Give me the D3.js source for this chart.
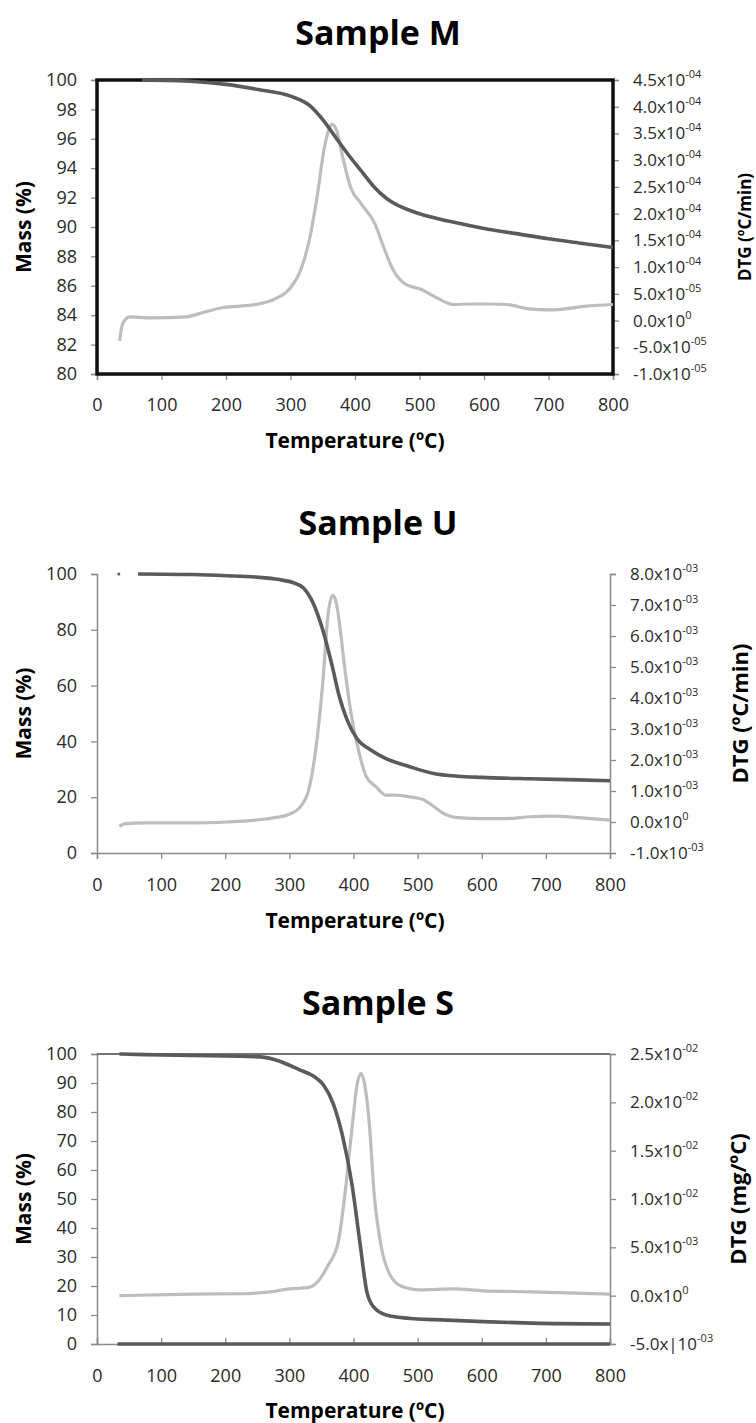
<!DOCTYPE html>
<html>
<head>
<meta charset="utf-8">
<script src="https://cdn.jsdelivr.net/npm/d3@7"></script>
<style>
  body { margin: 0; background: #fff; }
</style>
</head>
<body>
<script>

// ---- shared ----
const tempTicks = [0, 100, 200, 300, 400, 500, 600, 700, 800]

// ---- Sample M ----
const massMTemp  = [70, 150, 200, 250, 300, 330, 350, 370, 390, 410, 430, 450, 470, 500, 550, 600, 650, 700, 750, 800]
const massMValue = [100, 99.9, 99.7, 99.35, 98.9, 98.25, 97.3, 96.1, 94.9, 93.8, 92.7, 91.9, 91.4, 90.9, 90.35, 89.9, 89.55, 89.2, 88.9, 88.6]
const dtgMTemp   = [35, 40, 51, 84, 139, 156, 194, 222, 250, 277, 299, 316, 330, 341, 352, 360, 365, 371, 382, 393, 410, 432, 443, 459, 476, 503, 526, 553, 580, 608, 636, 669, 700, 719, 758, 800]
const dtgMValue  = [-0.38e-4, -0.05e-4, 0.07e-4, 0.05e-4, 0.07e-4, 0.12e-4, 0.24e-4, 0.27e-4, 0.31e-4, 0.41e-4, 0.6e-4, 0.95e-4, 1.55e-4, 2.3e-4, 3.2e-4, 3.6e-4, 3.67e-4, 3.57e-4, 3.0e-4, 2.5e-4, 2.18e-4, 1.78e-4, 1.42e-4, 0.95e-4, 0.7e-4, 0.58e-4, 0.43e-4, 0.3e-4, 0.31e-4, 0.31e-4, 0.3e-4, 0.22e-4, 0.2e-4, 0.21e-4, 0.27e-4, 0.3e-4]
const massMTicks = [80, 82, 84, 86, 88, 90, 92, 94, 96, 98, 100]
const dtgMTicks  = [-1.0e-4, -0.5e-4, 0, 0.5e-4, 1.0e-4, 1.5e-4, 2.0e-4, 2.5e-4, 3.0e-4, 3.5e-4, 4.0e-4, 4.5e-4]
const dtgMLabels = [["-1.0x10", "-05"], ["-5.0x10", "-05"], ["0.0x10", "0"], ["5.0x10", "-05"], ["1.0x10", "-04"], ["1.5x10", "-04"],
                    ["2.0x10", "-04"], ["2.5x10", "-04"], ["3.0x10", "-04"], ["3.5x10", "-04"], ["4.0x10", "-04"], ["4.5x10", "-04"]]

// ---- Sample U ----
const massUTemp  = [64, 149, 202, 247, 284, 307, 322, 337, 352, 367, 378, 390, 405, 427, 450, 488, 525, 563, 600, 675, 751, 800]
const massUValue = [100, 99.8, 99.4, 98.9, 98, 96.8, 95, 89.6, 80, 66.8, 56, 47.7, 41.1, 36.9, 33.9, 30.9, 28.5, 27.5, 27.1, 26.6, 26.2, 25.9]
const massUStray = [[34, 100]]
const dtgUTemp   = [35, 44, 74, 149, 202, 247, 277, 300, 315, 330, 341, 352, 360, 367, 372, 378, 386, 397, 409, 420, 435, 450, 465, 488, 510, 525, 540, 563, 600, 638, 675, 713, 751, 800]
const dtgUValue  = [-0.14e-3, -0.05e-3, -0.03e-3, -0.03e-3, 0, 0.06e-3, 0.14e-3, 0.25e-3, 0.44e-3, 1.03e-3, 2.32e-3, 4.48e-3, 6.63e-3, 7.3e-3, 7.17e-3, 6.42e-3, 5.02e-3, 3.4e-3, 2.21e-3, 1.46e-3, 1.14e-3, 0.87e-3, 0.87e-3, 0.81e-3, 0.71e-3, 0.5e-3, 0.28e-3, 0.14e-3, 0.11e-3, 0.11e-3, 0.17e-3, 0.19e-3, 0.14e-3, 0.06e-3]
const massUTicks = [0, 20, 40, 60, 80, 100]
const dtgUTicks  = [-1e-3, 0, 1e-3, 2e-3, 3e-3, 4e-3, 5e-3, 6e-3, 7e-3, 8e-3]
const dtgULabels = [["-1.0x10", "-03"], ["0.0x10", "0"], ["1.0x10", "-03"], ["2.0x10", "-03"], ["3.0x10", "-03"],
                    ["4.0x10", "-03"], ["5.0x10", "-03"], ["6.0x10", "-03"], ["7.0x10", "-03"], ["8.0x10", "-03"]]

// ---- Sample S ----
const massSTemp  = [35, 74, 149, 225, 255, 285, 315, 338, 353, 368, 383, 398, 410, 421, 432, 451, 489, 527, 602, 678, 800]
const massSValue = [100, 99.8, 99.5, 99.2, 99, 97.5, 94.6, 92.3, 89.4, 83.1, 71.7, 54.5, 35, 17.8, 12.6, 10, 8.8, 8.4, 7.7, 7.2, 6.9]
const massSZeroTemp  = [32, 800]
const massSZeroValue = [0, 0]
const dtgSTemp   = [35, 149, 225, 270, 300, 330, 345, 360, 376, 387, 398, 406, 412, 417, 425, 432, 444, 455, 474, 504, 557, 602, 678, 800]
const dtgSValue  = [0, 0.016e-2, 0.02e-2, 0.04e-2, 0.07e-2, 0.085e-2, 0.15e-2, 0.31e-2, 0.55e-2, 1.07e-2, 1.75e-2, 2.2e-2, 2.3e-2, 2.2e-2, 1.75e-2, 1.07e-2, 0.48e-2, 0.24e-2, 0.1e-2, 0.06e-2, 0.07e-2, 0.05e-2, 0.04e-2, 0.016e-2]
const massSTicks = [0, 10, 20, 30, 40, 50, 60, 70, 80, 90, 100]
const dtgSTicks  = [-0.5e-2, 0, 0.5e-2, 1.0e-2, 1.5e-2, 2.0e-2, 2.5e-2]
const dtgSLabels = [["-5.0x|10", "-03"], ["0.0x10", "0"], ["5.0x10", "-03"], ["1.0x10", "-02"], ["1.5x10", "-02"], ["2.0x10", "-02"], ["2.5x10", "-02"]]

const massColor = '#5a5a5a'
const dtgColor = '#bdbdbd'
const axisColor = '#8a8a8a'

const svg = d3.select('body').append('svg')
    .attr('width', 756)
    .attr('height', 1423)
    .style('font-family', "'Open Sans', sans-serif")

function zip(xs, ys){
    return xs.map((x, i) => [x, ys[i]])
}

function drawPanel(cfg){

    const g = svg.append('g')

    const x = d3.scaleLinear().domain([0, 800]).range([cfg.left, cfg.right])
    const yMass = d3.scaleLinear().domain(d3.extent(cfg.massTicks)).range([cfg.bottom, cfg.top])
    const yDtg = d3.scaleLinear().domain(d3.extent(cfg.dtgTicks)).range([cfg.bottom, cfg.top])

    // title
    g.append('text')
        .attr('x', 378).attr('y', cfg.titleY)
        .attr('text-anchor', 'middle')
        .style('font-size', '34px').style('font-weight', 'bold')
        .text(cfg.title)

    // axes
    const leftAxis = d3.axisLeft(yMass).tickValues(cfg.massTicks).tickSize(6).tickFormat(d3.format('d'))
    const bottomAxis = d3.axisBottom(x).tickValues(tempTicks).tickSize(cfg.xTickSize).tickFormat(d3.format('d'))
    const rightAxis = d3.axisRight(yDtg).tickValues(cfg.dtgTicks).tickSize(6).tickFormat('')

    const gl = g.append('g').attr('transform', getTranslateString(cfg.left, 0)).call(leftAxis)
    const gb = g.append('g').attr('transform', getTranslateString(0, cfg.bottom)).call(bottomAxis)
    const gr = g.append('g').attr('transform', getTranslateString(cfg.right, 0)).call(rightAxis)

    ;[gl, gb, gr].forEach(a => {
        a.select('.domain').attr('stroke', axisColor).attr('stroke-width', 1.5)
        a.selectAll('.tick line').attr('stroke', axisColor).attr('stroke-width', 1.3)
        a.selectAll('.tick text').style('font-size', '18px').attr('fill', '#2a2a2a').style('font-family', "'Open Sans', sans-serif")
    })
    gl.selectAll('.tick text').attr('x', -20)
    gb.selectAll('.tick text').attr('y', cfg.xLabelOffset)
    gr.selectAll('.tick text').remove()

    // right axis labels with superscript exponent
    const rl = g.append('g')
    cfg.dtgTicks.forEach((v, i) => {
        const t = rl.append('text')
            .attr('x', cfg.right + 20)
            .attr('y', yDtg(v) + 6)
            .style('font-size', '17px')
            .attr('fill', '#2a2a2a')
        t.append('tspan').text(cfg.dtgLabels[i][0])
        t.append('tspan').attr('dy', -8).style('font-size', '11px').text(cfg.dtgLabels[i][1])
    })

    if (cfg.frame){
        g.append('rect')
            .attr('x', cfg.left).attr('y', cfg.top)
            .attr('width', cfg.right - cfg.left).attr('height', cfg.bottom - cfg.top)
            .attr('fill', 'none').attr('stroke', '#111').attr('stroke-width', 3.5)
    }
    if (cfg.topLine){
        g.append('line')
            .attr('x1', cfg.left).attr('x2', cfg.right)
            .attr('y1', cfg.top).attr('y2', cfg.top)
            .attr('stroke', '#444').attr('stroke-width', 1.5)
    }

    const line = (ys) => d3.line().x(d => x(d[0])).y(d => ys(d[1])).curve(d3.curveMonotoneX)

    g.append('path')
        .datum(zip(cfg.dtgTemp, cfg.dtgValue))
        .attr('d', line(yDtg))
        .attr('fill', 'none').attr('stroke', dtgColor).attr('stroke-width', 3.2)

    g.append('path')
        .datum(zip(cfg.massTemp, cfg.massValue))
        .attr('d', line(yMass))
        .attr('fill', 'none').attr('stroke', massColor).attr('stroke-width', 3.6)

    if (cfg.extraLine){
        g.append('path')
            .datum(zip(cfg.extraLine[0], cfg.extraLine[1]))
            .attr('d', line(yMass))
            .attr('fill', 'none').attr('stroke', massColor).attr('stroke-width', 3.6)
    }
    if (cfg.stray){
        g.selectAll('circle.stray')
            .data(cfg.stray)
            .join('circle')
            .attr('cx', d => x(d[0])).attr('cy', d => yMass(d[1]))
            .attr('r', 1.5).attr('fill', massColor)
    }

    // axis titles
    g.append('text')
        .attr('transform', getTranslateString(31, (cfg.top + cfg.bottom) / 2) + ' rotate(-90)')
        .attr('text-anchor', 'middle')
        .style('font-size', '21px').style('font-weight', 'bold')
        .text('Mass (%)')

    g.append('text')
        .attr('transform', getTranslateString(cfg.dtgTitleX, (cfg.top + cfg.bottom) / 2) + ' rotate(-90)')
        .attr('text-anchor', 'middle')
        .style('font-size', cfg.dtgTitleSize + 'px').style('font-weight', 'bold')
        .text(cfg.dtgTitle)

    g.append('text')
        .attr('x', 355).attr('y', cfg.xTitleY)
        .attr('text-anchor', 'middle')
        .style('font-size', '21px').style('font-weight', 'bold')
        .text('Temperature (ºC)')
}

drawPanel({
    title: 'Sample M', titleY: 45,
    left: 97, right: 613, top: 80, bottom: 374,
    massTicks: massMTicks, dtgTicks: dtgMTicks, dtgLabels: dtgMLabels,
    massTemp: massMTemp, massValue: massMValue, dtgTemp: dtgMTemp, dtgValue: dtgMValue,
    frame: true, xTickSize: 6, xLabelOffset: 24,
    dtgTitle: 'DTG (ºC/min)', dtgTitleSize: 17, dtgTitleX: 751,
    xTitleY: 448
})

drawPanel({
    title: 'Sample U', titleY: 535,
    left: 97, right: 610, top: 574, bottom: 853,
    massTicks: massUTicks, dtgTicks: dtgUTicks, dtgLabels: dtgULabels,
    massTemp: massUTemp, massValue: massUValue, dtgTemp: dtgUTemp, dtgValue: dtgUValue,
    stray: massUStray,
    xTickSize: 6, xLabelOffset: 25,
    dtgTitle: 'DTG (ºC/min)', dtgTitleSize: 22, dtgTitleX: 748,
    xTitleY: 928
})

drawPanel({
    title: 'Sample S', titleY: 1015,
    left: 97, right: 610, top: 1054, bottom: 1344,
    massTicks: massSTicks, dtgTicks: dtgSTicks, dtgLabels: dtgSLabels,
    massTemp: massSTemp, massValue: massSValue, dtgTemp: dtgSTemp, dtgValue: dtgSValue,
    extraLine: [massSZeroTemp, massSZeroValue],
    topLine: true, xTickSize: -6, xLabelOffset: 25,
    dtgTitle: 'DTG (mg/ºC)', dtgTitleSize: 22, dtgTitleX: 746,
    xTitleY: 1418
})

function getTranslateString(x, y){
    return 'translate(' + x + ',' + y + ')'
}

</script>
</body>
</html>
